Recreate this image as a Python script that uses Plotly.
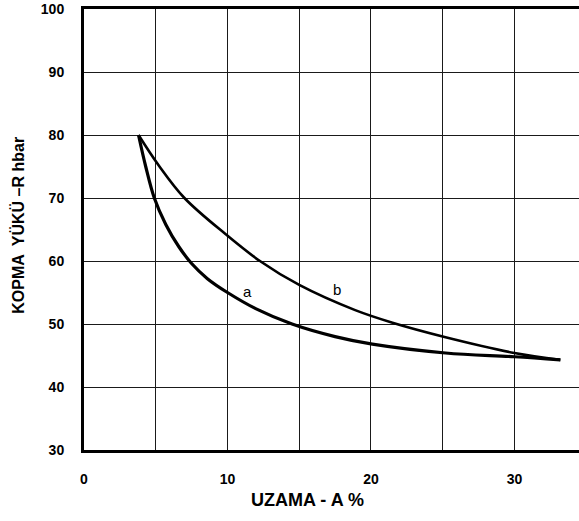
import plotly.graph_objects as go

# Data
a_x = [3.8, 4.3, 4.9, 5.7, 6.6, 7.5, 8.6, 10.0, 12.0, 14.5, 17.5, 20.1, 25.2, 30.0, 33.2]
a_y = [80.0, 75.0, 70.0, 65.8, 62.3, 59.6, 57.2, 55.0, 52.4, 50.0, 48.0, 46.8, 45.4, 44.8, 44.3]

b_x = [3.8, 5.2, 7.0, 9.9, 12.26, 15.0, 18.9, 21.5, 25.2, 30.0, 33.2]
b_y = [80.0, 75.2, 70.0, 64.2, 60.0, 56.2, 52.2, 50.2, 47.9, 45.4, 44.3]

curve_labels = ["a", "b"]
label_x = [11.4, 17.6]
label_y = [55.2, 55.4]

x_tickvals = [0, 5, 10, 15, 20, 25, 30]
x_ticktext = ["0", "", "10", "", "20", "", "30"]
y_tickvals = [30, 40, 50, 60, 70, 80, 90, 100]
y_ticktext = ["30", "40", "50", "60", "70", "80", "90", "100"]

x_title = "UZAMA - A %"
y_title = "KOPMA  YÜKÜ \u2013R hbar"

FONT = "Arial"

fig = go.Figure()
fig.add_trace(go.Scatter(x=a_x, y=a_y, mode="lines",
                         line=dict(color="black", width=3.2, shape="spline", smoothing=1.0),
                         showlegend=False, hoverinfo="skip"))
fig.add_trace(go.Scatter(x=b_x, y=b_y, mode="lines",
                         line=dict(color="black", width=2.6, shape="spline", smoothing=1.0),
                         showlegend=False, hoverinfo="skip"))

for t, lx, ly in zip(curve_labels, label_x, label_y):
    fig.add_annotation(x=lx, y=ly, text=t, showarrow=False,
                       font=dict(family=FONT, size=15, color="black"))

fig.add_annotation(xref="paper", yref="paper", x=0.4525, y=-0.113, text=x_title,
                   showarrow=False, xanchor="center", yanchor="middle",
                   font=dict(family=FONT, size=18, color="black", weight="bold"))
fig.add_annotation(xref="paper", yref="paper", x=-0.134, y=0.51, text=y_title,
                   showarrow=False, xanchor="center", yanchor="middle", textangle=-90,
                   font=dict(family=FONT, size=16, color="black", weight="bold"))

fig.update_layout(
    width=579, height=521,
    margin=dict(l=84, r=0, t=9, b=71),
    paper_bgcolor="white", plot_bgcolor="white",
    font=dict(family=FONT, color="black"),
)
fig.update_xaxes(range=[0, 34.5], tickvals=x_tickvals, ticktext=x_ticktext,
                 showgrid=True, gridcolor="#1a1a1a", gridwidth=1,
                 showline=True, linecolor="black", linewidth=3, mirror=True,
                 zeroline=False, ticks="", ticklabelstandoff=14,
                 tickfont=dict(family=FONT, size=14, color="black", weight="bold"))
fig.update_yaxes(range=[30, 100], tickvals=y_tickvals, ticktext=y_ticktext,
                 showgrid=True, gridcolor="#1a1a1a", gridwidth=1,
                 showline=True, linecolor="black", linewidth=3, mirror=False,
                 zeroline=False, ticks="", ticklabelstandoff=14,
                 tickfont=dict(family=FONT, size=14, color="black", weight="bold"))

fig.write_html("out.html")
